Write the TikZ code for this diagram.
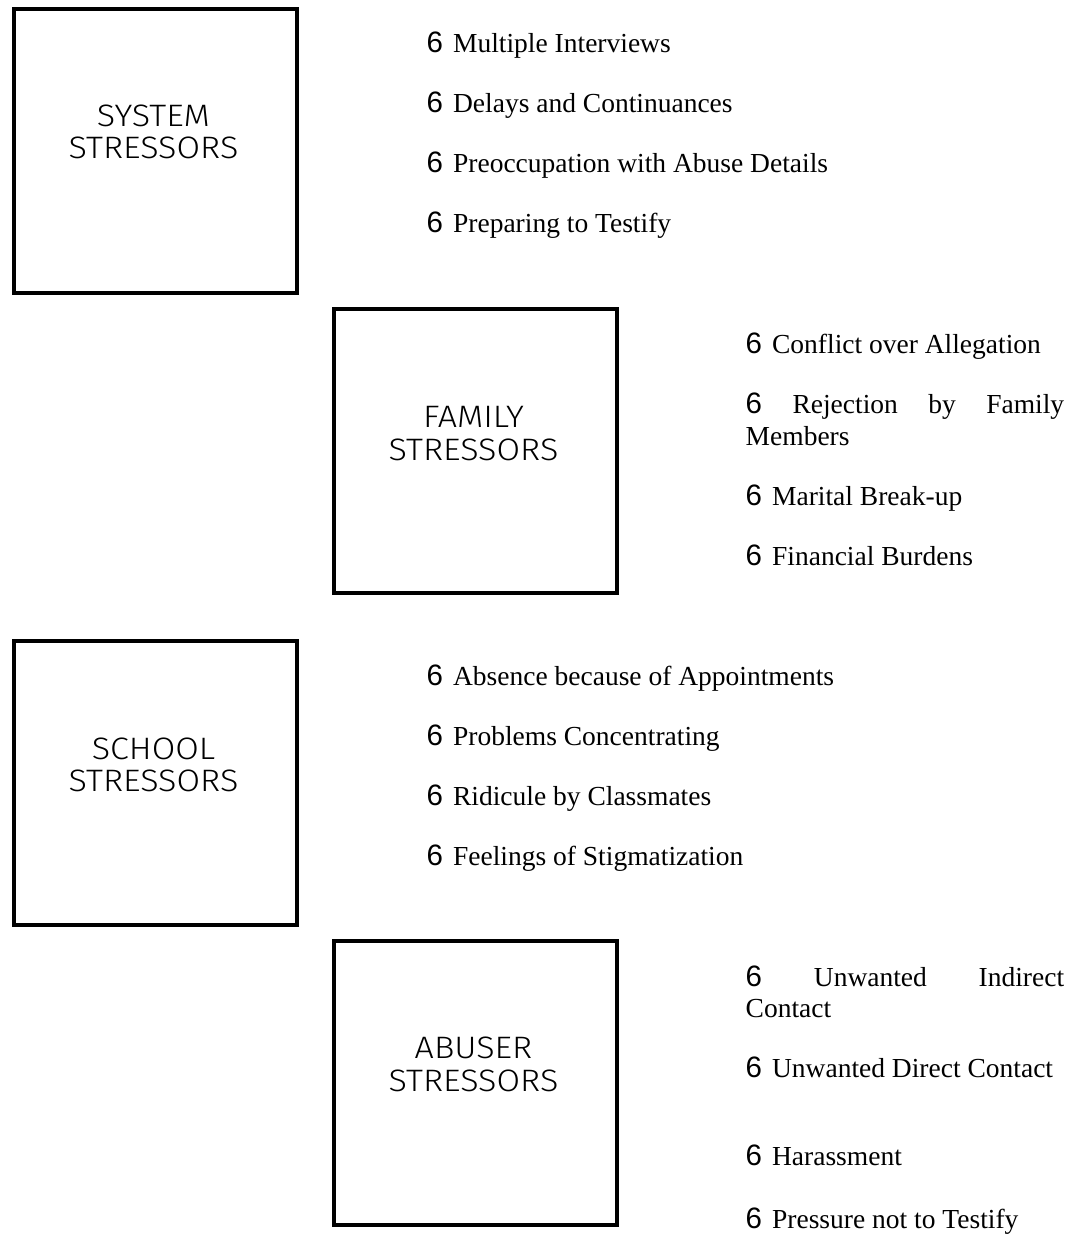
\documentclass[tikz,border=0pt]{standalone}
\usepackage{fontspec}
\setmainfont{Liberation Serif}
\newfontfamily\bulfont{Liberation Sans}
\newfontfamily\boxfont{Fira Sans Light}[FakeStretch=1.1]
\newcommand\bulletsix{{\bulfont\fontsize{29.5}{30}\selectfont 6}}
\newcommand\itm[1]{\bulletsix\hspace{10pt}#1}
\begin{document}
\begin{tikzpicture}[x=1pt,y=-1pt,
  box/.style={draw, line width=4pt, inner sep=0pt, anchor=north west, minimum width=283pt},
  boxlbl/.style={anchor=base, inner sep=0pt, font=\boxfont\fontsize{31}{32}\selectfont},
  item/.style={anchor=base west, inner sep=0pt, font=\fontsize{27.5}{32}\selectfont},
]
\useasboundingbox[fill=white] (0,0) rectangle (1080,1236);
% boxes
\node[box, minimum height=284pt] (sys) at (12,7) {};
\node[box, minimum height=283.5pt] (fam) at (332,307) {};
\node[box, minimum height=284pt] (sch) at (12,639) {};
\node[box, minimum height=284pt] (abu) at (332,939) {};
% box labels
\node[boxlbl] (sysA) at (153.5,127) {SYSTEM};
\node[boxlbl] (sysB) at (153.5,158) {STRESSORS};
\node[boxlbl] (famA) at (473.5,427) {FAMILY};
\node[boxlbl] (famB) at (473.5,460) {STRESSORS};
\node[boxlbl] (schA) at (153.5,759) {SCHOOL};
\node[boxlbl] (schB) at (153.5,791) {STRESSORS};
\node[boxlbl] (abuA) at (473.5,1058) {ABUSER};
\node[boxlbl] (abuB) at (473.5,1091) {STRESSORS};
% system list
\node[item] (s1) at (426.5,53) {\itm{Multiple Interviews}};
\node[item] (s2) at (426.5,112.5) {\itm{Delays and Continuances}};
\node[item] (s3) at (426.5,172.5) {\itm{Preoccupation with Abuse Details}};
\node[item] (s4) at (426.5,232) {\itm{Preparing to Testify}};
% family list
\node[item] (f1) at (745.5,353) {\itm{Conflict over Allegation}};
\node[item] (f2) at (745.5,413) {\hbox to 318.5pt{\bulletsix\hfill Rejection\hfill by\hfill Family}};
\node[item] (f2b) at (745.5,445) {Members};
\node[item] (f3) at (745.5,505) {\itm{Marital Break-up}};
\node[item] (f4) at (745.5,565) {\itm{Financial Burdens}};
% school list
\node[item] (c1) at (426.5,685) {\itm{Absence because of Appointments}};
\node[item] (c2) at (426.5,745) {\itm{Problems Concentrating}};
\node[item] (c3) at (426.5,805) {\itm{Ridicule by Classmates}};
\node[item] (c4) at (426.5,865) {\itm{Feelings of Stigmatization}};
% abuser list
\node[item] (a1) at (745.5,986) {\hbox to 318.5pt{\bulletsix\hfill Unwanted\hfill Indirect}};
\node[item] (a1b) at (745.5,1017) {Contact};
\node[item] (a2) at (745.5,1077) {\itm{Unwanted Direct Contact}};
\node[item] (a3) at (745.5,1165) {\itm{Harassment}};
\node[item] (a4) at (745.5,1228) {\itm{Pressure not to Testify}};
\end{tikzpicture}
\end{document}
